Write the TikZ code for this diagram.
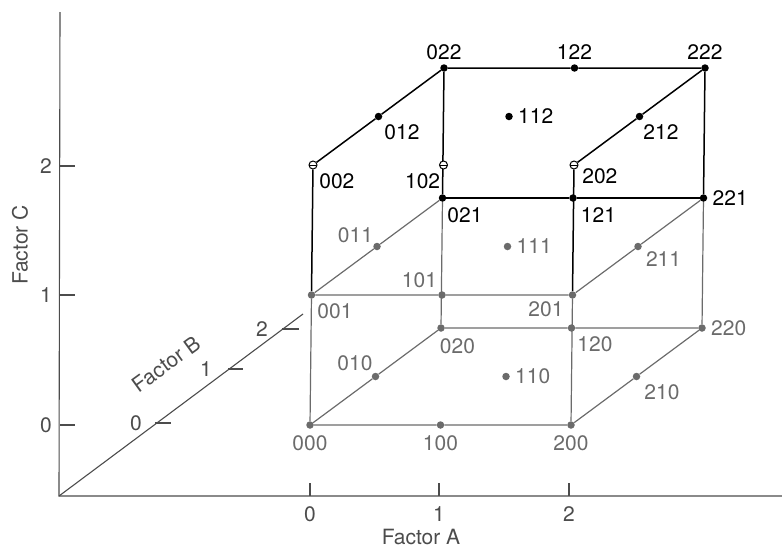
\documentclass[tikz,border=0pt]{standalone}
\usepackage{fontspec}
\setmainfont{TeX Gyre Heros}
\usetikzlibrary{positioning, backgrounds}
\definecolor{lowgray}{gray}{0.42}
\definecolor{axisgray}{gray}{0.3}

\begin{document}
\begin{tikzpicture}[
        x=1pt, y=-1pt,
        font=\fontsize{21}{25}\selectfont,
        dot/.style = {circle, fill, inner sep=0pt, minimum size=7.5pt},
        opendot/.style = {circle, draw, fill=white, line width=1pt, inner sep=0pt, minimum size=8pt,
            path picture={\draw[line width=1pt] (path picture bounding box.west) -- (path picture bounding box.east);}},
        lbl/.style = {inner sep=0pt},
        lowlbl/.style = {inner sep=0pt, text=lowgray},
        edge/.style = {line width=1.2pt, lowgray},
        topedge/.style = {line width=1.5pt, black},
        axis/.style = {line width=1.1pt, axisgray},
        axlbl/.style = {inner sep=0pt, text=axisgray}
    ]
        \useasboundingbox (0,0) rectangle (782,549);

        % Axes
        \coordinate (orig) at (59,496);
        \coordinate (Aend) at (782,496);
        \coordinate (Cend) at (60,12);
        \coordinate (Bend) at (303,314);
        \draw [axis] (Cend) -- (orig) -- (Aend);
        \draw [axis] (orig) -- (Bend);

        % Factor A ticks
        \coordinate (ta0) at (310,496);
        \coordinate (ta1) at (439,496);
        \coordinate (ta2) at (569,496);
        \foreach \t in {0,1,2}
            \draw [axis] (ta\t) -- ++(0,-13);
        \node [axlbl, below=10pt of ta0] (na0) {0};
        \node [axlbl, below=10pt of ta1] (na1) {1};
        \node [axlbl, below=10pt of ta2] (na2) {2};
        \node [axlbl] (nA) at (421,537) {Factor A};

        % Factor C ticks
        \coordinate (tc0) at (60,425);
        \coordinate (tc1) at (60,295);
        \coordinate (tc2) at (60,166);
        \foreach \t in {0,1,2}
            \draw [axis] (tc\t) -- ++(15,0);
        \node [axlbl, left=8pt of tc0] (nc0) {0};
        \node [axlbl, left=8pt of tc1] (nc1) {1};
        \node [axlbl, left=8pt of tc2] (nc2) {2};
        \node [axlbl, rotate=90] (nC) at (20,245) {Factor C};

        % Factor B ticks
        \coordinate (tb0) at (155,423);
        \coordinate (tb1) at (228,369);
        \coordinate (tb2) at (282,329);
        \draw [axis] (tb0) -- ++(16,0);
        \draw [axis] (tb1) -- ++(15,0);
        \draw [axis] (tb2) -- ++(17,0);
        \node [axlbl, left=13pt of tb0] (nb0) {0};
        \node [axlbl, left=16pt of tb1] (nb1) {1};
        \node [axlbl, left=14pt of tb2] (nb2) {2};
        \node [axlbl, rotate=36] (nB) at (166,364) {Factor B};

        % Design points (A, B, C)
        \coordinate (origin) at (310,425);
        \begin{scope}[shift={(origin)}, x={(130.5pt,0pt)}, y={(65.5pt,48.5pt)}, z={(1.5pt,130pt)}]
            \foreach \a in {0,1,2} \foreach \b in {0,1,2}
                \node [dot, lowgray] (p\a\b0) at (\a,\b,0) {};
            \foreach \a in {0,1,2} \foreach \b in {0,1}
                \node [dot, lowgray] (p\a\b1) at (\a,\b,1) {};
            \foreach \a in {0,1,2}
                \node [dot] (p\a21) at (\a,2,1) {};
            \foreach \a in {0,1,2} \foreach \b in {1,2}
                \node [dot] (p\a\b2) at (\a,\b,2) {};
            \foreach \a in {0,1,2}
                \node [opendot] (p\a02) at (\a,0,2) {};
        \end{scope}

        % Edges
        \begin{scope}[on background layer]
            \draw [edge] (p000) -- (p100) -- (p200) -- (p210) -- (p220) -- (p120) -- (p020) -- (p010) -- (p000);
            \draw [edge] (p000) -- (p001);
            \draw [edge] (p200) -- (p201);
            \draw [edge] (p020) -- (p021);
            \draw [edge] (p220) -- (p221);
            \draw [edge] (p001) -- (p101) -- (p201) -- (p211) -- (p221);
            \draw [edge] (p001) -- (p011) -- (p021);
            \draw [topedge] (p021) -- (p121) -- (p221);
            \draw [topedge] (p001) -- (p002) -- (p012) -- (p022) -- (p122) -- (p222) -- (p212) -- (p202) -- (p201);
            \draw [topedge] (p021) -- (p022);
            \draw [topedge] (p221) -- (p222);
        \end{scope}

        % Labels, level C = 0
        \node [lowlbl, below=6pt of p000] (l000) {000};
        \node [lowlbl, below=6pt of p100] (l100) {100};
        \node [lowlbl, below=6pt of p200] (l200) {200};
        \node [lowlbl, above left=3pt and 0pt of p010] (l010) {010};
        \node [lowlbl, right=5pt of p110] (l110) {110};
        \node [lowlbl, below right=5pt and 5pt of p210] (l210) {210};
        \node [lowlbl, below right=8pt and -4pt of p020] (l020) {020};
        \node [lowlbl, below right=6pt and 3pt of p120] (l120) {120};
        \node [lowlbl, right=5pt of p220] (l220) {220};

        % Labels, level C = 1
        \node [lowlbl, below right=6pt and 3pt of p001] (l001) {001};
        \node [lowlbl, above left=4pt and 2pt of p101] (l101) {101};
        \node [lowlbl, below left=4pt and 6pt of p201] (l201) {201};
        \node [lowlbl, above left=1pt and 1pt of p011] (l011) {011};
        \node [lowlbl, right=5pt of p111] (l111) {111};
        \node [lowlbl, below right=2pt and 5pt of p211] (l211) {211};
        \node [lbl, below right=7pt and 2pt of p021] (l021) {021};
        \node [lbl, below right=7pt and 5pt of p121] (l121) {121};
        \node [lbl, right=5pt of p221] (l221) {221};

        % Labels, level C = 2
        \node [lbl, below right=5pt and 3pt of p002] (l002) {002};
        \node [lbl, below left=5pt and 0pt of p102] (l102) {102};
        \node [lbl, below right=0pt and 5pt of p202] (l202) {202};
        \node [lbl, below right=5pt and 3pt of p012] (l012) {012};
        \node [lbl, right=5pt of p112] (l112) {112};
        \node [lbl, below right=5pt and 1pt of p212] (l212) {212};
        \node [lbl, above=4pt of p022] (l022) {022};
        \node [lbl, above=4pt of p122] (l122) {122};
        \node [lbl, above=4pt of p222] (l222) {222};

    \end{tikzpicture}
\end{document}
